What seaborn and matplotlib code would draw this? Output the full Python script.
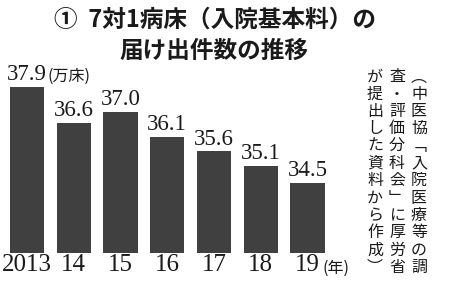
import matplotlib
matplotlib.use("Agg")
import matplotlib.pyplot as plt
import seaborn as sns
import pandas as pd

years = ["2013", "14", "15", "16", "17", "18", "19"]
values = [37.9, 36.6, 37.0, 36.1, 35.6, 35.1, 34.5]
value_labels = ["37.9", "36.6", "37.0", "36.1", "35.6", "35.1", "34.5"]
title_lines = ["①  7対1病床（入院基本料）の", "届け出件数の推移"]
unit_label = "(万床)"
year_unit = "(年)"
source_cols = ["︵中医協﹁入院医療等の調", "査・評価分科会﹂に厚労省", "が提出した資料から作成︶"]

sns.set_theme(style="white")
CJK = ["Noto Sans CJK JP", "DejaVu Sans"]
SERIF = ["Liberation Serif", "DejaVu Serif"]
BAR = "#404040"

W, H = 450, 284
fig = plt.figure(figsize=(4.5, 2.84), dpi=100)
fig.patch.set_facecolor("white")

def px(x, y):
    return x / W, 1 - y / H

ax = fig.add_axes([3.6 / W, 31 / H, 327.3 / W, 183 / H])
df = pd.DataFrame({"year": years, "value": values})
sns.barplot(data=df, x="year", y="value", color=BAR, saturation=1,
            width=0.73, ax=ax, edgecolor="none")
ax.set_ylim(32.0, 38.49)
ax.set_xlim(-0.5, 6.5)
for s in ax.spines.values():
    s.set_visible(False)
ax.set_yticks([])
ax.set_xlabel("")
ax.set_ylabel("")
ax.tick_params(axis="x", length=0, pad=1)
ax.set_xticks(range(len(years)))
ax.set_xticklabels(years, fontfamily=SERIF, fontsize=18, color="#1a1a1a")
ax.set_facecolor("white")

for i, (v, lab) in enumerate(zip(values, value_labels)):
    ax.text(i, v + 0.07, lab, ha="center", va="bottom",
            fontfamily=SERIF, fontsize=16.5, color="#1a1a1a")

ax.annotate(unit_label, xy=(0, values[0] + 0.07), xytext=(15, 0),
            textcoords="offset points", ha="left", va="bottom",
            fontfamily=CJK, fontsize=11.5, color="#1a1a1a")
fig.text(*px(322, 268), year_unit, ha="left", va="center",
         fontfamily=CJK, fontsize=11.5, color="#1a1a1a")

fig.text(*px(215, 20), title_lines[0], ha="center", va="center",
         fontfamily=CJK, fontsize=17, fontweight="bold", color="#1a1a1a")
fig.text(*px(214, 51), title_lines[1], ha="center", va="center",
         fontfamily=CJK, fontsize=17, fontweight="bold", color="#1a1a1a")

col_x = [419, 397, 375]
pitch = 17.3
for cx, col in zip(col_x, source_cols):
    for j, ch in enumerate(col):
        fig.text(*px(cx, 77 + j * pitch), ch, ha="center", va="center",
                 fontfamily=CJK, fontsize=11.5, color="#1a1a1a")

fig.savefig("out.png", dpi=100, facecolor="white")
